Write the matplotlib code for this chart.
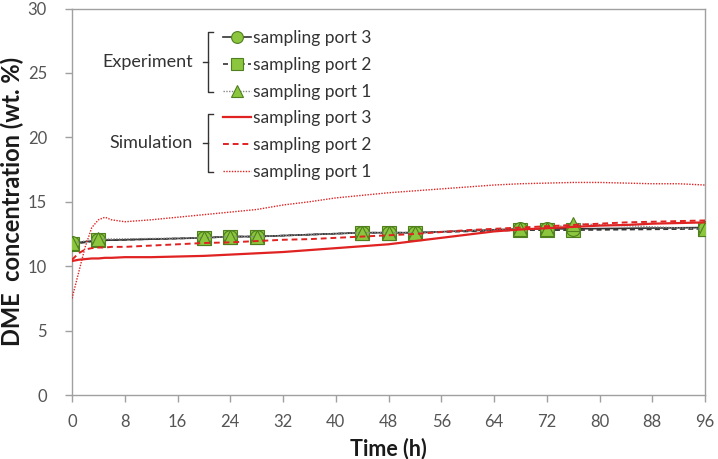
import matplotlib
matplotlib.use("Agg")
import matplotlib.pyplot as plt
from matplotlib.lines import Line2D

# ── Data ─────────────────────────────────────────────────────────────────────
exp_t = [0, 4, 20, 24, 28, 44, 48, 52, 68, 72, 76, 96]
exp_port3 = [11.8, 12.0, 12.2, 12.3, 12.3, 12.6, 12.6, 12.6, 12.9, 12.9, 12.9, 13.0]
exp_port2 = [11.7, 12.0, 12.2, 12.3, 12.3, 12.6, 12.6, 12.6, 12.8, 12.8, 12.8, 12.9]
exp_port1 = [11.8, 12.1, 12.2, 12.3, 12.3, 12.6, 12.6, 12.6, 12.9, 12.9, 13.3, 12.9]

sim_t = [0, 1, 2, 3, 4, 5, 6, 8, 12, 16, 20, 24, 28, 32, 36, 40, 44, 48, 52,
         56, 60, 64, 68, 72, 76, 80, 84, 88, 92, 96]
sim_port3 = [10.4, 10.5, 10.55, 10.6, 10.6, 10.65, 10.65, 10.7, 10.7, 10.75,
             10.8, 10.9, 11.0, 11.1, 11.25, 11.4, 11.55, 11.7, 11.95,
             12.2, 12.45, 12.7, 12.85, 12.95, 13.05, 13.15, 13.2, 13.3, 13.35, 13.4]
sim_port2 = [10.5, 11.0, 11.3, 11.4, 11.45, 11.45, 11.5, 11.5, 11.6, 11.7,
             11.8, 11.85, 11.95, 12.05, 12.1, 12.2, 12.3, 12.4, 12.5,
             12.65, 12.8, 12.9, 13.0, 13.1, 13.2, 13.3, 13.4, 13.45, 13.5, 13.55]
sim_port1 = [7.5, 9.5, 11.5, 13.0, 13.6, 13.8, 13.6, 13.45, 13.6, 13.8,
             14.0, 14.2, 14.4, 14.75, 15.0, 15.3, 15.5, 15.7, 15.85,
             16.0, 16.15, 16.3, 16.4, 16.45, 16.5, 16.5, 16.45, 16.4, 16.4, 16.3]

x_ticks = list(range(0, 97, 8))
y_ticks = [0, 5, 10, 15, 20, 25, 30]

# ── Style ────────────────────────────────────────────────────────────────────
RED = "#e02222"
FACE = "#8cc63f"
EDGE = "#4f7f1f"
AX_COLOR = "#a0a0a0"
TICK_TEXT = "#555555"

plt.rcParams["font.family"] = ["Lato", "DejaVu Sans"]

fig = plt.figure(figsize=(7.18, 4.59), dpi=100)
ax = fig.add_axes([0.1003, 0.1394, 0.8816, 0.842])

mk = dict(markerfacecolor=FACE, markeredgecolor=EDGE, markeredgewidth=0.8,
          markersize=10)

# squares underneath, circles, triangles on top (as in the source)
l_e2, = ax.plot(exp_t, exp_port2, color="#333333", lw=1.2, ls=(0, (3, 2)),
                marker="s", zorder=3, **mk)
l_e3, = ax.plot(exp_t, exp_port3, color="#333333", lw=1.2, ls="-",
                marker="o", zorder=3, **mk)
l_e1, = ax.plot(exp_t, exp_port1, color="#888888", lw=1.0, ls=(0, (1, 1)),
                marker="^", zorder=3, **mk)

l_s3, = ax.plot(sim_t, sim_port3, color=RED, lw=1.6, ls="-", zorder=4)
l_s2, = ax.plot(sim_t, sim_port2, color=RED, lw=1.4, ls=(0, (3, 2)), zorder=4)
l_s1, = ax.plot(sim_t, sim_port1, color=RED, lw=1.0, ls=(0, (1, 1)), zorder=4)

ax.set_xlim(0, 96)
ax.set_ylim(0, 30)
ax.set_xticks(x_ticks)
ax.set_yticks(y_ticks)
ax.tick_params(direction="out", length=5, width=1, color=AX_COLOR,
               labelcolor=TICK_TEXT, labelsize=12)
ax.tick_params(axis="x", pad=9)
ax.tick_params(axis="y", pad=13)
for s in ax.spines.values():
    s.set_color(AX_COLOR)
    s.set_linewidth(1.0)

ax.set_xlabel("Time (h)", fontsize=15.5, fontweight="bold", color="#1a1a1a",
              labelpad=5)
ax.set_ylabel("DME  concentration (wt. %)", fontsize=17, fontweight="bold",
              color="#1a1a1a", labelpad=3)

# ── Legend with braces ───────────────────────────────────────────────────────
handles = [l_e3, l_e2, l_e1, l_s3, l_s2, l_s1]
labels = ["sampling port 3", "sampling port 2", "sampling port 1",
          "sampling port 3", "sampling port 2", "sampling port 1"]
leg = ax.legend(handles, labels, loc="upper left",
                bbox_to_anchor=(0.2275, 0.962), frameon=False, fontsize=12.5,
                handlelength=1.6, handletextpad=0.15, labelspacing=0.62,
                borderaxespad=0, markerscale=0.85, labelcolor="#333333")

def brace(y_top, y_bot, label):
    x0 = 0.2149
    y_mid = (y_top + y_bot) / 2
    kw = dict(transform=ax.transAxes, color="#333333", lw=1.0, clip_on=False)
    ax.add_line(Line2D([x0 + 0.008, x0, x0, x0 + 0.008],
                       [y_top, y_top, y_bot, y_bot], **kw))
    ax.add_line(Line2D([x0, x0 - 0.008], [y_mid, y_mid], **kw))
    ax.text(x0 - 0.024, y_mid, label, transform=ax.transAxes, ha="right",
            va="center", fontsize=13, color="#333333")

brace(0.938, 0.785, "Experiment")
brace(0.727, 0.577, "Simulation")

fig.savefig("out.png", dpi=100)
